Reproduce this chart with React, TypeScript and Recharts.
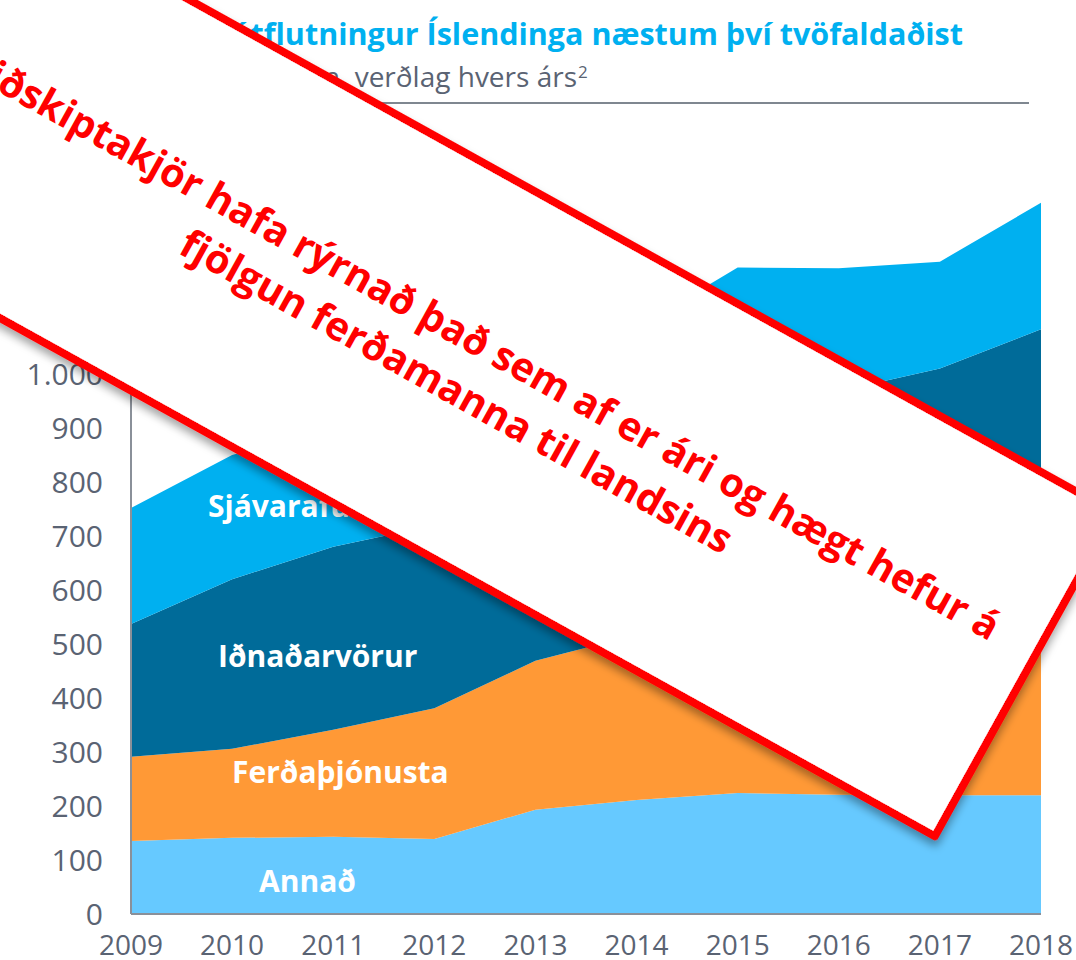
import React from 'react';
import { AreaChart, Area, XAxis, YAxis } from 'recharts';

const years = ['2009', '2010', '2011', '2012', '2013', '2014', '2015', '2016', '2017', '2018'];
const annad = [135, 141, 143, 139, 193, 211, 224, 221, 220, 220];
const ferdathjonusta = [156, 165, 198, 242, 276, 306, 376, 469, 505, 520];
const idnadarvorur = [246, 314, 339, 339, 321, 333, 330, 278, 285, 343];
const sjavarafurdir = [215, 230, 220, 230, 220, 235, 267, 228, 198, 234];
const yTicks = [0, 100, 200, 300, 400, 500, 600, 700, 800, 900, 1000, 1100, 1200, 1300, 1400];

const seriesLabels = ['Annað', 'Ferðaþjónusta', 'Iðnaðarvörur', 'Sjávarafurðir'];
const title = 'Vöru- og þjónustuútflutningur Íslendinga næstum því tvöfaldaðist';
const subtitle = 'Milljarðar króna, verðlag hvers árs';
const bannerLine1 = 'Viðskiptakjör hafa rýrnað það sem af er ári og hægt hefur á';
const bannerLine2 = 'fjölgun ferðamanna til landsins';

const data = years.map((year, i) => ({
  year,
  annad: annad[i],
  ferd: ferdathjonusta[i],
  idn: idnadarvorur[i],
  sjav: sjavarafurdir[i],
}));

const FONT = '"Open Sans", "Noto Sans", sans-serif';
const AXIS = '#8A9099';
const TICK = '#5A6373';

const fmt = (v: number) => (v >= 1000 ? `${Math.floor(v / 1000)}.${String(v % 1000).padStart(3, '0')}` : String(v));

export default function App() {
  return (
    <div style={{ position: 'absolute', left: 0, top: 0, width: 1076, height: 960, background: '#fff', fontFamily: FONT }}>
      {/* header */}
      <svg width={1076} height={960} style={{ position: 'absolute', left: 0, top: 0 }}>
        <text x={963} y={45} textAnchor="end" fontSize={30.5} fontWeight={700} fill="#00B0F0" fontFamily={FONT}>
          {title}
        </text>
        <text x={577} y={87} textAnchor="end" fontSize={28} fill="#5A6373" fontFamily={FONT}>
          {subtitle}
        </text>
        <text x={578} y={78} textAnchor="start" fontSize={17} fill="#5A6373" fontFamily={FONT}>
          2
        </text>
        <line x1={131} y1={103} x2={1029} y2={103} stroke="#7F8790" strokeWidth={2} />
      </svg>
      <div style={{ position: 'absolute', left: 0, top: 0 }}>
        <AreaChart width={1076} height={960} data={data} margin={{ top: 158, right: 35, left: 0, bottom: 0 }}>
          <XAxis
            dataKey="year"
            height={46}
            interval={0}
            tickLine={false}
            tickSize={0}
            tickMargin={21}
            axisLine={{ stroke: AXIS, strokeWidth: 2 }}
            tick={{ fill: TICK, fontSize: 28, fontFamily: FONT }}
          />
          <YAxis
            width={131}
            domain={[0, 1400]}
            ticks={yTicks}
            interval={0}
            tickFormatter={fmt}
            tickLine={false}
            tickSize={0}
            tickMargin={28}
            axisLine={{ stroke: AXIS, strokeWidth: 2 }}
            tick={{ fill: TICK, fontSize: 30, fontFamily: FONT }}
          />
          <Area type="linear" dataKey="annad" name={seriesLabels[0]} stackId="1" stroke="none" fill="#66C9FF" fillOpacity={1} isAnimationActive={false} />
          <Area type="linear" dataKey="ferd" name={seriesLabels[1]} stackId="1" stroke="none" fill="#FF9936" fillOpacity={1} isAnimationActive={false} />
          <Area type="linear" dataKey="idn" name={seriesLabels[2]} stackId="1" stroke="none" fill="#006B99" fillOpacity={1} isAnimationActive={false} />
          <Area type="linear" dataKey="sjav" name={seriesLabels[3]} stackId="1" stroke="none" fill="#00B0F0" fillOpacity={1} isAnimationActive={false} />
        </AreaChart>
      </div>
      {/* series labels */}
      <svg width={1076} height={960} style={{ position: 'absolute', left: 0, top: 0, pointerEvents: 'none' }}>
        <g fontFamily={FONT} fontWeight={700} fontSize={30} fill="#fff">
          <text x={208} y={517}>{seriesLabels[3]}</text>
          <text x={218} y={667}>{seriesLabels[2]}</text>
          <text x={232} y={783}>{seriesLabels[1]}</text>
          <text x={259} y={892}>{seriesLabels[0]}</text>
        </g>
      </svg>
      {/* banner */}
      <svg width={1076} height={960} style={{ position: 'absolute', left: 0, top: 0, pointerEvents: 'none' }}>
        <defs>
          <filter id="sh" x="-10%" y="-10%" width="120%" height="130%">
            <feDropShadow dx={3} dy={5} stdDeviation={4} floodColor="#000" floodOpacity={0.35} />
          </filter>
        </defs>
        <g transform="translate(470 367) rotate(29)">
          <rect x={-634} y={-185} width={1268} height={370} fill="#fff" stroke="#FF0000" strokeWidth={8} strokeLinejoin="round" filter="url(#sh)" />
          <text x={0} y={-12} textAnchor="middle" fontSize={40} fontWeight={700} fill="#FF0000" fontFamily={FONT} textLength={1175} lengthAdjust="spacingAndGlyphs">
            {bannerLine1}
          </text>
          <text x={0} y={42} textAnchor="middle" fontSize={40} fontWeight={700} fill="#FF0000" fontFamily={FONT} textLength={624} lengthAdjust="spacingAndGlyphs">
            {bannerLine2}
          </text>
        </g>
      </svg>
    </div>
  );
}
